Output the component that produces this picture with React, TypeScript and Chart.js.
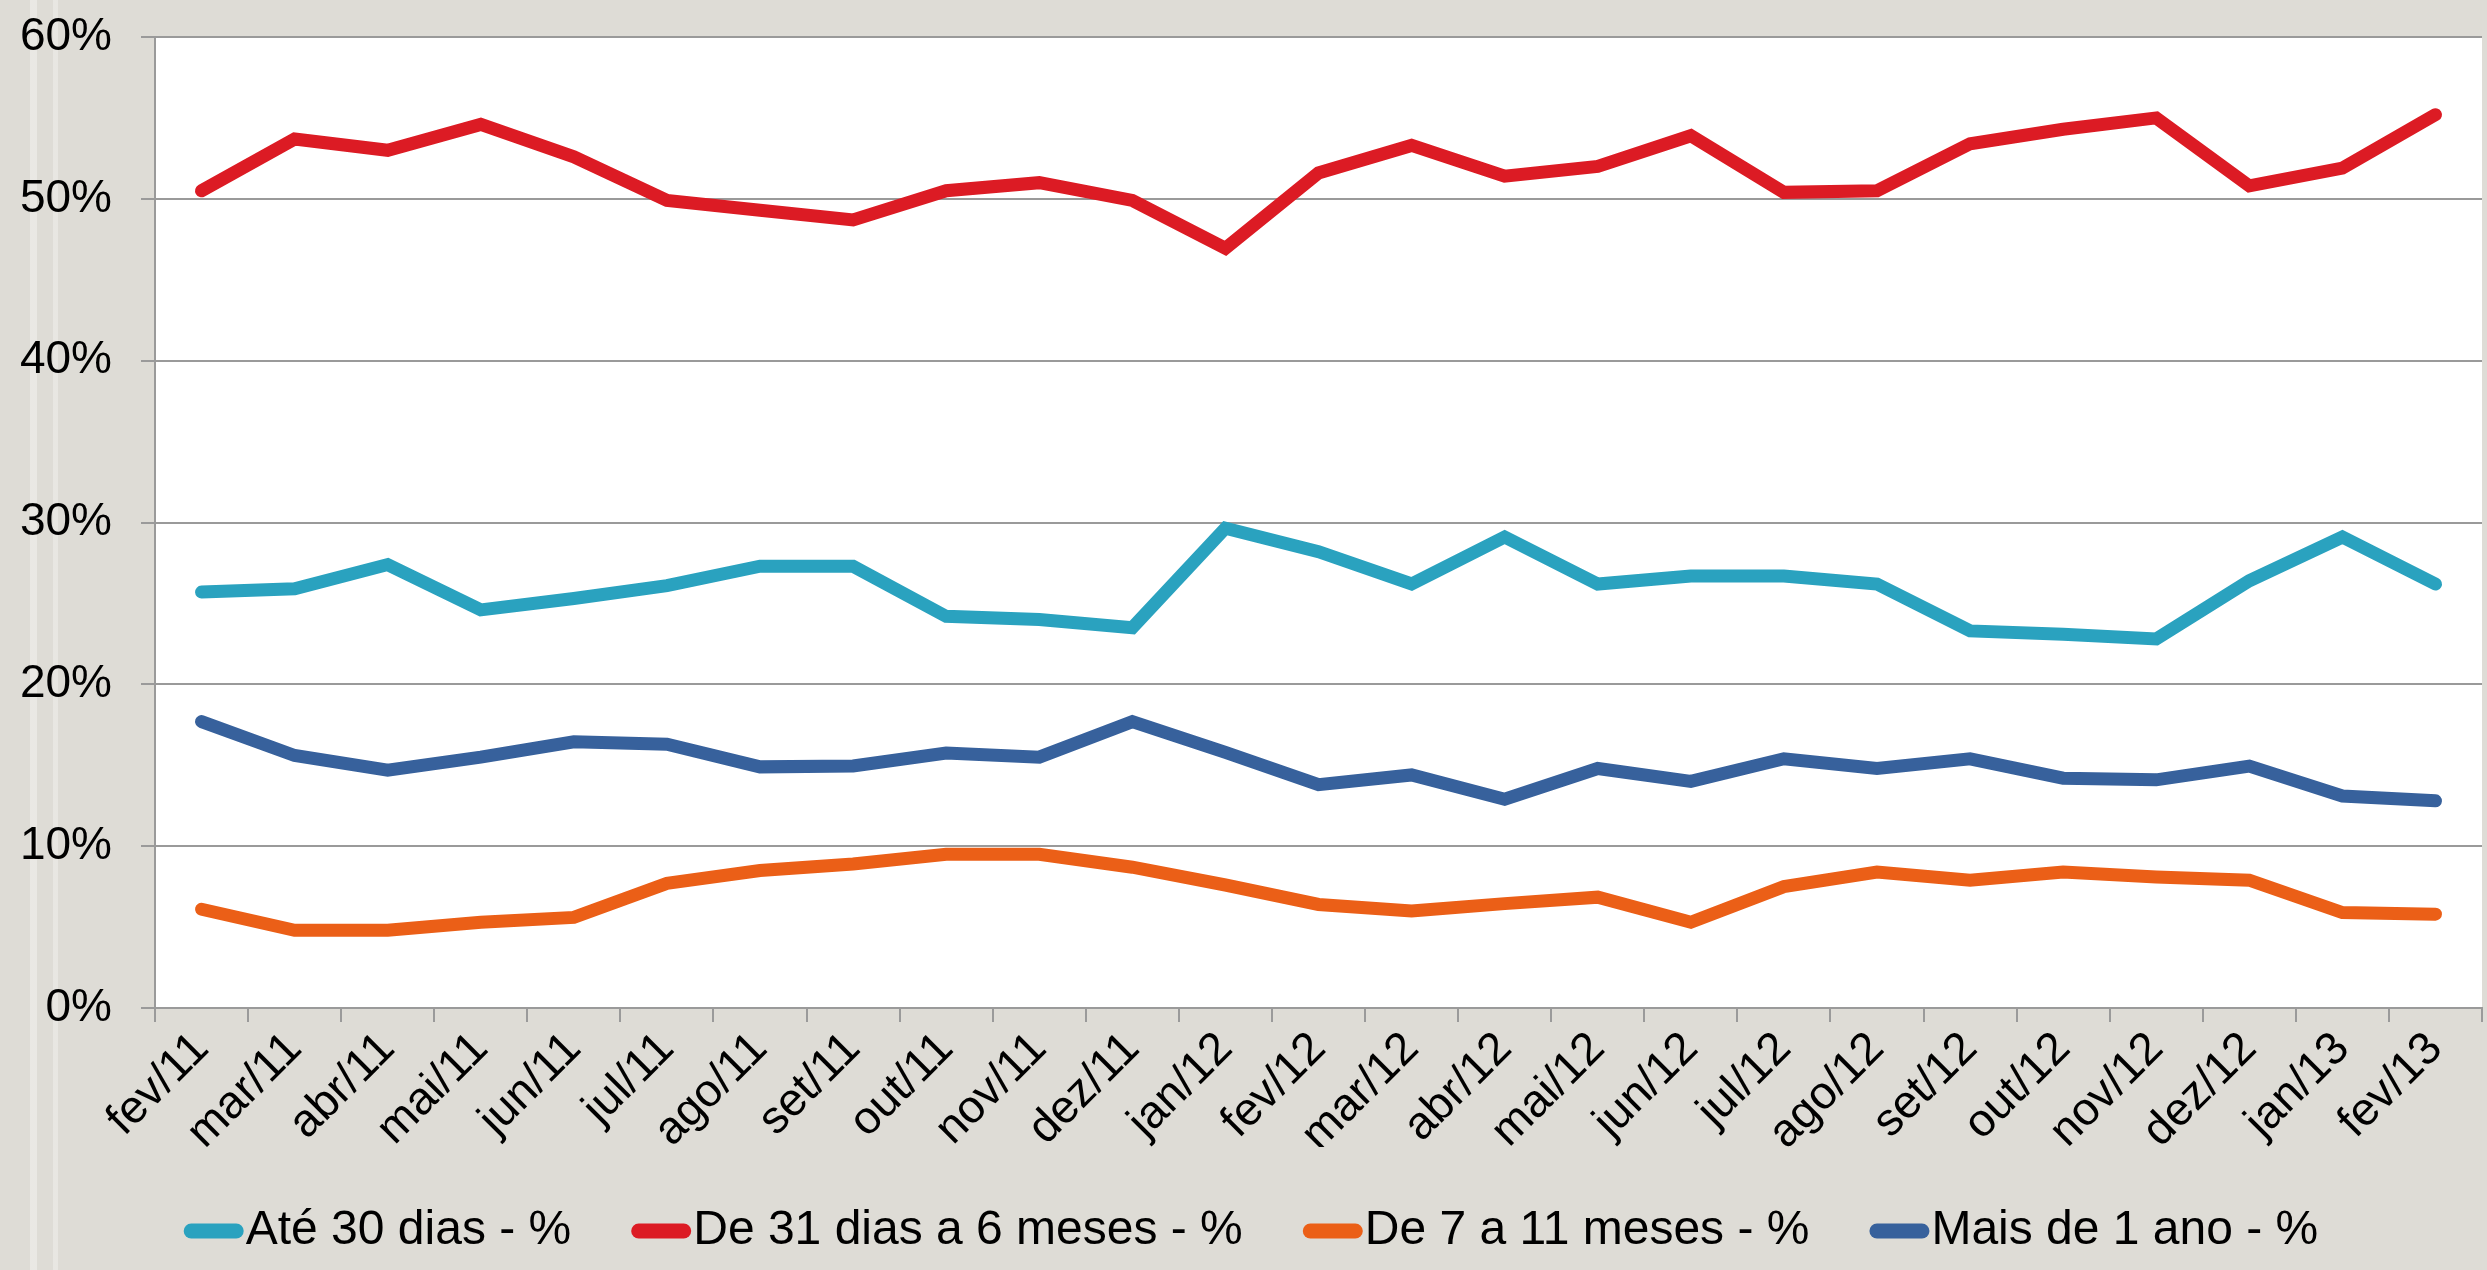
import React, { useEffect, useRef } from "react";
import { Chart, registerables } from "chart.js";

Chart.register(...registerables);

const categories = [
  "fev/11", "mar/11", "abr/11", "mai/11", "jun/11", "jul/11", "ago/11", "set/11",
  "out/11", "nov/11", "dez/11", "jan/12", "fev/12", "mar/12", "abr/12", "mai/12",
  "jun/12", "jul/12", "ago/12", "set/12", "out/12", "nov/12", "dez/12", "jan/13", "fev/13",
];

const seriesNames = [
  "Até 30 dias - %",
  "De 31 dias a 6 meses - %",
  "De 7 a 11 meses - %",
  "Mais de 1 ano - %",
];

const seriesColors = ["#2aa2bf", "#dc1b24", "#eb5f17", "#37619c"];

const ate30dias = [
  25.7, 25.9, 27.4, 24.6, 25.3, 26.1, 27.3, 27.3, 24.2, 24.0, 23.5, 29.65, 28.2,
  26.2, 29.1, 26.2, 26.7, 26.7, 26.2, 23.3, 23.1, 22.8, 26.4, 29.1, 26.2,
];

const de31diasA6meses = [
  50.5, 53.7, 53.0, 54.6, 52.6, 49.9, 49.3, 48.7, 50.5, 51.0, 49.9, 46.95, 51.6,
  53.3, 51.4, 52.0, 53.9, 50.4, 50.5, 53.4, 54.3, 55.0, 50.8, 51.9, 55.2,
];

const de7a11meses = [
  6.1, 4.8, 4.8, 5.3, 5.6, 7.7, 8.5, 8.9, 9.5, 9.5, 8.7, 7.6, 6.4,
  6.0, 6.45, 6.85, 5.3, 7.5, 8.4, 7.9, 8.4, 8.1, 7.9, 5.9, 5.8,
];

const maisDe1ano = [
  17.7, 15.6, 14.7, 15.5, 16.45, 16.3, 14.9, 14.95, 15.75, 15.5, 17.7, 15.8, 13.8,
  14.4, 12.9, 14.8, 14.0, 15.4, 14.8, 15.4, 14.2, 14.1, 14.95, 13.1, 12.8,
];

const yMin = 0;
const yMax = 60;
const yStep = 10;

const FONT = "'Liberation Sans', Arial, Helvetica, sans-serif";

const LEGEND_SWATCH_W = 60;
const LEGEND_SWATCH_H = 15;

const plotBackground = {
  id: "plotBackground",
  beforeDraw(chart: any) {
    const { ctx, chartArea } = chart;
    if (!chartArea) return;
    ctx.save();
    ctx.fillStyle = "#ffffff";
    ctx.fillRect(
      chartArea.left,
      chartArea.top,
      chartArea.right - chartArea.left,
      chartArea.bottom - chartArea.top
    );
    ctx.restore();
  },
};

// Draws the wide rounded line swatches at the legend's own hit boxes
const legendSwatches = {
  id: "legendSwatches",
  afterDraw(chart: any) {
    const legend = chart.legend;
    if (!legend || !legend.legendHitBoxes) return;
    const ctx = chart.ctx;
    ctx.save();
    legend.legendHitBoxes.forEach((hb: any, i: number) => {
      const item = legend.legendItems[i];
      const ds = chart.data.datasets[item.datasetIndex];
      const cy = hb.top + hb.height / 2;
      const x = hb.left;
      const y = cy - LEGEND_SWATCH_H / 2;
      const r = LEGEND_SWATCH_H / 2;
      ctx.fillStyle = ds.borderColor;
      ctx.beginPath();
      ctx.moveTo(x + r, y);
      ctx.lineTo(x + LEGEND_SWATCH_W - r, y);
      ctx.arc(x + LEGEND_SWATCH_W - r, cy, r, -Math.PI / 2, Math.PI / 2);
      ctx.lineTo(x + r, y + LEGEND_SWATCH_H);
      ctx.arc(x + r, cy, r, Math.PI / 2, (3 * Math.PI) / 2);
      ctx.closePath();
      ctx.fill();
    });
    ctx.restore();
  },
};

export default function App() {
  const canvasRef = useRef<HTMLCanvasElement | null>(null);

  useEffect(() => {
    const canvas = canvasRef.current;
    if (!canvas) return;
    const allSeries = [ate30dias, de31diasA6meses, de7a11meses, maisDe1ano];
    const datasets = allSeries.map((values, i) => ({
      label: seriesNames[i],
      data: values,
      borderColor: seriesColors[i],
      backgroundColor: seriesColors[i],
      borderWidth: 13,
      pointRadius: 0,
      pointHoverRadius: 0,
      tension: 0,
      borderCapStyle: "round" as const,
      borderJoinStyle: "miter" as const,
      fill: false,
    }));

    const chart = new Chart(canvas, {
      type: "line",
      data: { labels: categories, datasets },
      plugins: [plotBackground, legendSwatches],
      options: {
        responsive: false,
        animation: false,
        devicePixelRatio: 1,
        layout: { padding: { left: 20, right: 5, top: 37, bottom: 5 } },
        plugins: {
          tooltip: { enabled: false },
          legend: {
            position: "bottom",
            labels: {
              boxWidth: 38,
              boxHeight: 15,
              padding: 60,
              color: "#000000",
              font: { size: 48, family: FONT },
              generateLabels: (ch: any) =>
                ch.data.datasets.map((ds: any, i: number) => ({
                  text: ds.label,
                  fillStyle: "rgba(0,0,0,0)",
                  strokeStyle: "rgba(0,0,0,0)",
                  lineWidth: 0,
                  hidden: false,
                  datasetIndex: i,
                  fontColor: "#000000",
                })),
            },
          },
        },
        scales: {
          x: {
            type: "category",
            offset: true,
            grid: {
              offset: true,
              drawOnChartArea: false,
              drawTicks: true,
              tickLength: 14,
              color: "#9a9a9a",
              lineWidth: 2,
            },
            border: { display: true, color: "#9a9a9a", width: 2 },
            ticks: {
              autoSkip: false,
              minRotation: 45,
              maxRotation: 45,
              padding: 0,
              color: "#000000",
              font: { size: 46, family: FONT },
            },
            afterFit: (scale: any) => {
              scale.height = 139;
            },
          },
          y: {
            min: yMin,
            max: yMax,
            grid: {
              color: "#9a9a9a",
              lineWidth: 2,
              tickLength: 14,
              drawTicks: true,
            },
            border: { display: true, color: "#9a9a9a", width: 2 },
            ticks: {
              stepSize: yStep,
              padding: 29,
              color: "#000000",
              font: { size: 46, family: FONT },
              callback: (v: any) => `${v}%`,
            },
            afterFit: (scale: any) => {
              scale.width = 135;
              scale.paddingTop = 0;
              scale.paddingBottom = 0;
            },
          },
        },
      },
    });

    return () => {
      chart.destroy();
    };
  }, []);

  return (
    <div
      style={{
        position: "absolute",
        left: 0,
        top: 0,
        width: 2487,
        height: 1270,
        overflow: "hidden",
        background:
          "linear-gradient(90deg, rgba(0,0,0,0) 0px, rgba(0,0,0,0) 30px, rgba(255,255,255,0.35) 30px, rgba(255,255,255,0.35) 37px, rgba(0,0,0,0) 37px, rgba(0,0,0,0) 53px, rgba(255,255,255,0.3) 53px, rgba(255,255,255,0.3) 58px, rgba(0,0,0,0) 58px), #dedcd6",
      }}
    >
      <canvas
        ref={canvasRef}
        width={2487}
        height={1270}
        style={{ display: "block", width: 2487, height: 1270 }}
      />
    </div>
  );
}
